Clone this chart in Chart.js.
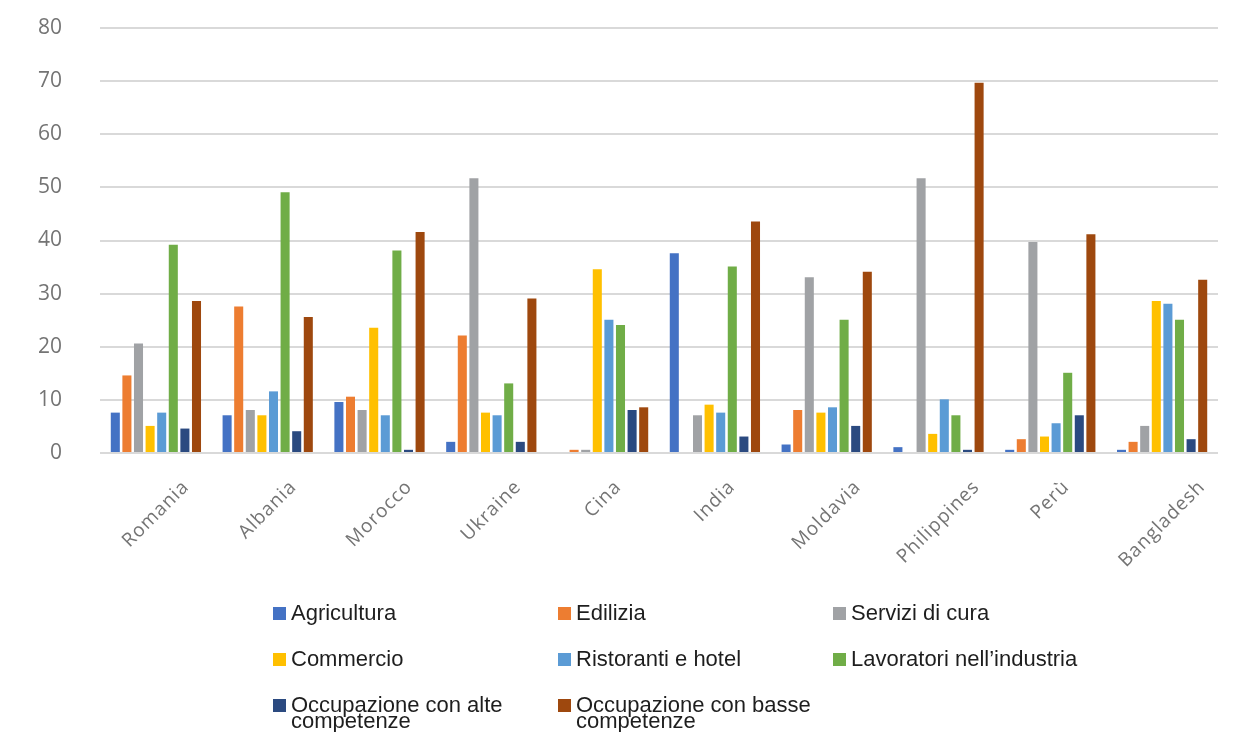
<!DOCTYPE html>
<html lang="it">
<head>
<meta charset="utf-8">
<title>Occupazione per paese</title>
<script src="https://cdn.jsdelivr.net/npm/chart.js@4.4.1/dist/chart.umd.min.js"></script>
<style>
  body { margin: 0; background: #fff; }
  #wrap { position: relative; width: 1236px; height: 732px; }
  #legend { position: absolute; left: 0; top: 0; width: 1236px; height: 732px; pointer-events: none;
            font-family: "Liberation Sans", Arial, sans-serif; font-size: 22px; color: #1e1e1e; }
  .item { position: absolute; display: flex; align-items: flex-start; }
  .box { width: 13px; height: 13px; margin-right: 5px; flex: none; }
  .txt { width: 255px; line-height: 16px; }
</style>
</head>
<body>
<div id="wrap">
  <canvas id="barchart" width="1236" height="732"></canvas>
  <div id="legend"></div>
</div>
<script>
// categorie e serie
var paesi = ['Romania', 'Albania', 'Morocco', 'Ukraine', 'Cina', 'India', 'Moldavia', 'Philippines', 'Perù', 'Bangladesh'];

var agricoltura = [7.6, 7.1, 9.6, 2.1, 0, 37.6, 1.6, 1.1, 0.6, 0.6];
var edilizia    = [14.6, 27.6, 10.6, 22.1, 0.6, 0, 8.1, 0, 2.6, 2.1];
var servizi     = [20.6, 8.1, 8.1, 51.7, 0.6, 7.1, 33.1, 51.7, 39.7, 5.1];
var commercio   = [5.1, 7.1, 23.6, 7.6, 34.6, 9.1, 7.6, 3.6, 3.1, 28.6];
var ristoranti  = [7.6, 11.6, 7.1, 7.1, 25.1, 7.6, 8.6, 10.1, 5.6, 28.1];
var industria   = [39.2, 49.1, 38.1, 13.1, 24.1, 35.1, 25.1, 7.1, 15.1, 25.1];
var alte        = [4.6, 4.1, 0.6, 2.1, 8.1, 3.1, 5.1, 0.6, 7.1, 2.6];
var basse       = [28.6, 25.6, 41.6, 29.1, 8.6, 43.6, 34.1, 69.7, 41.2, 32.6];

var nomiSerie = ['Agricultura', 'Edilizia', 'Servizi di cura', 'Commercio', 'Ristoranti e hotel',
                 'Lavoratori nell\u2019industria', 'Occupazione con alte competenze', 'Occupazione con basse competenze'];
var valoriSerie = [agricoltura, edilizia, servizi, commercio, ristoranti, industria, alte, basse];
var colori = ['#4472C4', '#ED7D31', '#A0A2A5', '#FFC000', '#5B9BD5', '#70AD47', '#2B4A80', '#9E480E'];

(function() {
  var ctx = document.getElementById('barchart').getContext('2d');

  // etichette dei paesi ruotate e centrate sotto ogni gruppo
  var etichettePaesi = {
    id: 'etichettePaesi',
    afterDraw: function(chart) {
      var x = chart.scales.x;
      var c = chart.ctx;
      var top = chart.chartArea.bottom + 26;
      c.save();
      c.font = '19px "Open Sans", sans-serif';
      if ('letterSpacing' in c) c.letterSpacing = '1px';
      c.fillStyle = '#747474';
      c.textAlign = 'center';
      c.textBaseline = 'middle';
      paesi.forEach(function(nome, i) {
        var w = c.measureText(nome).width;
        var cx = x.getPixelForTick(i);
        var cy = top + (w + 14) * 0.3536;
        c.save();
        c.translate(cx, cy);
        c.rotate(-Math.PI / 4);
        c.fillText(nome, 0, 0);
        c.restore();
      });
      c.restore();
    }
  };

  var myChart = new Chart(ctx, {
    type: 'bar',
    data: {
      labels: paesi,
      datasets: valoriSerie.map(function(v, i) {
        return {
          label: nomiSerie[i],
          data: v,
          backgroundColor: colori[i],
          categoryPercentage: 0.83,
          barPercentage: 0.78
        };
      })
    },
    options: {
      responsive: false,
      animation: false,
      layout: { padding: { left: 0, right: 18, top: 28, bottom: 271 } },
      scales: {
        x: {
          ticks: { display: false },
          grid: { display: false },
          border: { display: false }
        },
        y: {
          min: 0,
          max: 80,
          ticks: {
            stepSize: 10,
            padding: 38,
            color: '#747474',
            font: { family: '"Open Sans", sans-serif', size: 21 }
          },
          grid: { color: '#d9d9d9', lineWidth: 2, drawTicks: false },
          border: { display: false },
          afterFit: function(scale) {
            scale.width = 100;
            scale.paddingTop = 0;
            scale.paddingBottom = 0;
          }
        }
      },
      plugins: {
        legend: { display: false },
        tooltip: { enabled: false }
      }
    },
    plugins: [etichettePaesi]
  });

  // legenda su tre colonne
  var legend = document.getElementById('legend');
  var colX = [273, 558, 833];
  var rowY = [605, 651, 697];
  myChart.data.datasets.forEach(function(ds, i) {
    var item = document.createElement('div');
    item.className = 'item';
    item.style.left = colX[i % 3] + 'px';
    item.style.top = rowY[Math.floor(i / 3)] + 'px';
    var box = document.createElement('span');
    box.className = 'box';
    box.style.background = ds.backgroundColor;
    box.style.marginTop = '2px';
    var txt = document.createElement('span');
    txt.className = 'txt';
    txt.textContent = ds.label;
    item.appendChild(box);
    item.appendChild(txt);
    legend.appendChild(item);
  });
})();
</script>
</body>
</html>
